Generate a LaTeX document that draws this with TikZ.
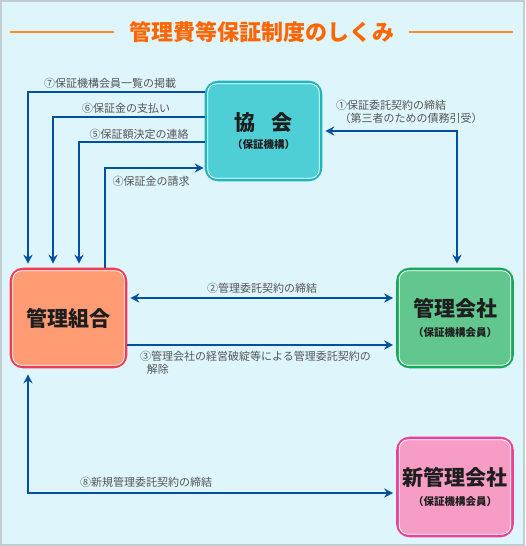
\documentclass[tikz,border=0pt]{standalone}
\usepackage{fontspec}
\setmainfont{Noto Sans CJK JP}
\usetikzlibrary{arrows.meta,calc}
\definecolor{bgc}{HTML}{DEF5FC}
\definecolor{framec}{HTML}{C3CDD1}
\definecolor{arrc}{HTML}{0050A0}
\definecolor{labc}{HTML}{555555}
\definecolor{titc}{HTML}{FF6600}
\definecolor{tlinec}{HTML}{FF8A30}
\definecolor{tealf}{HTML}{4ECFD5}
\definecolor{tealb}{HTML}{20B6BF}
\definecolor{salf}{HTML}{FF9C74}
\definecolor{salb}{HTML}{F03C58}
\definecolor{grnf}{HTML}{62C68F}
\definecolor{grnb}{HTML}{17A85C}
\definecolor{pnkf}{HTML}{F79DC5}
\definecolor{pnkb}{HTML}{E84396}
\definecolor{txtc}{HTML}{1E1E1E}
\tikzset{
  box/.style={rounded corners=12pt, line width=2.6pt, minimum width=115pt, minimum height=98pt,
    inner sep=0pt, align=center, text=txtc, font=\bfseries},
  arr/.style={draw=arrc, line width=2.8pt, -{Stealth[length=9pt,width=9pt]}},
  arrb/.style={draw=arrc, line width=2.8pt, {Stealth[length=9pt,width=9pt]}-{Stealth[length=9pt,width=9pt]}},
  lab/.style={text=labc, font=\fontsize{11}{13}\selectfont, inner sep=0pt},
  tline/.style={draw=tlinec, line width=1.6pt},
}
\newcommand{\bt}[1]{{\fontsize{21}{24}\selectfont #1}}
\newcommand{\st}[1]{{\fontsize{10.5}{12}\selectfont #1}}
\begin{document}
\begin{tikzpicture}[x=1pt,y=-1pt]
\useasboundingbox (0,0) rectangle (525,546);
\fill[bgc] (0,0) rectangle (525,546);
\draw[framec, line width=2pt] (1,1) rectangle (524,545);

% title
\node[text=titc, font=\fontsize{22}{24}\selectfont\bfseries, inner sep=0pt] (title) at (262,32) {管理費等保証制度のしくみ};
\coordinate (tl) at (10,32);
\coordinate (tr) at (513,32);
\draw[tline] ($(title.west)+(-15,0)$) -- (tl);
\draw[tline] ($(title.east)+(14,0)$) -- (tr);

% boxes
\node[box, fill=tealf, draw=tealb] (kyokai) at (263.5,131) {\bt{協\hspace{0.8em}会}\\[6pt]\st{（保証機構）}};
\node[box, fill=salf, draw=salb] (kumiai) at (68.5,318) {\bt{管理組合}};
\node[box, fill=grnf, draw=grnb] (kaisha) at (455,318) {\bt{管理会社}\\[8pt]\st{（保証機構会員）}};
\node[box, fill=pnkf, draw=pnkb] (shin) at (455,487) {\bt{新管理会社}\\[8pt]\st{（保証機構会員）}};
\foreach \n in {kyokai,kumiai,kaisha,shin}{
  \draw[white, line width=0.8pt, rounded corners=9pt] ($(\n.north west)+(3,3)$) rectangle ($(\n.south east)+(-3,-3)$);
}

% connectors to kumiai
\draw[arr, shorten >=4pt] (kyokai.west |- 0,92) -| (kumiai.north -| 28,0);
\draw[arr, shorten >=4pt] (kyokai.west |- 0,117) -| (kumiai.north -| 53,0);
\draw[arr, shorten >=4pt] (kyokai.west |- 0,142) -| (kumiai.north -| 79,0);
\draw[arr, shorten >=1pt] (kumiai.north -| 105,0) |- (kyokai.west |- 0,168);

% 1
\draw[arrb, shorten <=3pt, shorten >=4pt] (kyokai.east |- 0,131) -| (kaisha.north -| 457,0);
% 2
\draw[arrb, shorten <=3pt, shorten >=3pt] (kumiai.east |- 0,298) -- (kaisha.west |- 0,298);
% 3
\draw[arr, shorten >=3pt] (kumiai.east |- 0,345) -- (kaisha.west |- 0,345);
% 8
\draw[arrb, shorten <=6pt, shorten >=3pt] (kumiai.south -| 28,0) |- (shin.west |- 0,493);

% labels
\node[lab] (l7) at (110,83) {⑦保証機構会員一覧の掲載};
\node[lab] (l6) at (126,108) {⑥保証金の支払い};
\node[lab] (l5) at (139,134) {⑤保証額決定の連絡};
\node[lab] (l4) at (151,181) {④保証金の請求};
\node[lab, align=left, anchor=west] (l1) at (336,111.5) {①保証委託契約の締結\\\hspace{0.3em}（第三者のための債務引受）};
\node[lab] (l2) at (262,288) {②管理委託契約の締結};
\node[lab, align=left, anchor=north west] (l3) at (140,351) {③管理会社の経営破綻等による管理委託契約の\\\hspace{0.6em}解除};
\node[lab] (l8) at (146,482) {⑧新規管理委託契約の締結};
\end{tikzpicture}
\end{document}
